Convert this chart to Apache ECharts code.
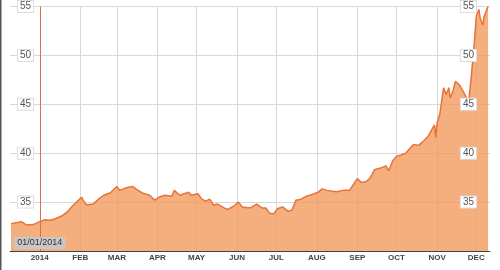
<!DOCTYPE html>
<html>
<head>
<meta charset="utf-8">
<script src="https://cdn.jsdelivr.net/npm/echarts@6/dist/echarts.min.js"></script>
<style>
html,body{margin:0;padding:0;background:#fff;}
#chart{width:500px;height:270px;}
</style>
</head>
<body>
<div id="chart"></div>
<script>
// ---- data ----
const dates = [
 '2013-12-10','2013-12-14','2013-12-18','2013-12-22','2013-12-27',
 '2014-01-01','2014-01-05','2014-01-09','2014-01-13','2014-01-18','2014-01-22','2014-01-26','2014-01-30',
 '2014-02-02','2014-02-04','2014-02-06','2014-02-11','2014-02-15','2014-02-19','2014-02-24',
 '2014-03-01','2014-03-03','2014-03-09','2014-03-13','2014-03-16','2014-03-21','2014-03-26','2014-03-30',
 '2014-04-03','2014-04-07','2014-04-12','2014-04-14','2014-04-18','2014-04-25','2014-04-27',
 '2014-05-02','2014-05-05','2014-05-08','2014-05-11','2014-05-14','2014-05-17','2014-05-22','2014-05-25','2014-05-30',
 '2014-06-02','2014-06-05','2014-06-11','2014-06-16','2014-06-20','2014-06-23','2014-06-26','2014-06-29',
 '2014-07-02','2014-07-06','2014-07-10','2014-07-13','2014-07-16','2014-07-20','2014-07-24','2014-07-29',
 '2014-08-02','2014-08-05','2014-08-09','2014-08-13','2014-08-16','2014-08-21','2014-08-26','2014-08-29',
 '2014-09-01','2014-09-04','2014-09-08','2014-09-11','2014-09-14','2014-09-19','2014-09-23','2014-09-25','2014-09-28',
 '2014-10-01','2014-10-04','2014-10-08','2014-10-12','2014-10-14','2014-10-18','2014-10-22','2014-10-25','2014-10-30','2014-10-31',
 '2014-11-01','2014-11-03','2014-11-06','2014-11-08','2014-11-10','2014-11-11','2014-11-13','2014-11-15','2014-11-18','2014-11-21','2014-11-23','2014-11-25','2014-11-27','2014-11-29',
 '2014-12-01','2014-12-03','2014-12-04','2014-12-06','2014-12-07','2014-12-10'
];
const prices = [
 32.8,32.9,33.0,32.65,32.7,
 33.0,33.2,33.15,33.3,33.6,34.0,34.6,35.1,
 35.5,35.0,34.7,34.8,35.3,35.7,35.95,
 36.6,36.2,36.5,36.6,36.3,35.9,35.7,35.2,
 35.55,35.7,35.6,36.2,35.7,36.0,35.7,
 35.85,35.3,35.1,35.3,34.7,34.8,34.4,34.25,34.65,
 35.0,34.5,34.4,34.8,34.4,34.4,33.85,33.8,
 34.35,34.5,34.05,34.2,35.2,35.3,35.6,35.8,
 36.0,36.35,36.2,36.1,36.05,36.2,36.2,36.8,
 37.4,37.0,37.1,37.5,38.3,38.5,38.7,38.2,39.2,
 39.7,39.8,40.0,40.6,40.9,40.8,41.3,41.7,42.9,41.6,
 43.1,43.95,46.7,46.0,46.7,45.65,46.3,47.35,47.0,46.3,45.8,45.1,47.6,50.5,
 54.0,54.7,53.8,53.1,54.0,55.0
];
const monthStarts = ['2014-01-01','2014-02-01','2014-03-01','2014-04-01','2014-05-01','2014-06-01',
                     '2014-07-01','2014-08-01','2014-09-01','2014-10-01','2014-11-01','2014-12-01'];
const monthLabels = ['','FEB','MAR','APR','MAY','JUN','JUL','AUG','SEP','OCT','NOV','DEC'];
const crosshairDate = '2014-01-01';
const crosshairLabel = '01/01/2014';

// ---- layout ----
const DAY = 864e5;
const pxPerDay = 1.307;
const t0 = new Date(2013, 11, 10).getTime();
const xMin = t0 - (1 / pxPerDay) * DAY;
const xMax = xMin + (480 / pxPerDay) * DAY;

const chart = echarts.init(document.getElementById('chart'), null, {renderer: 'canvas'});
const yLabel = {
  inside: true,
  showMinLabel: false,
  color: '#555',
  fontSize: 10,
  fontFamily: 'Liberation Sans, Arial, sans-serif',
  backgroundColor: '#fff',
  borderColor: '#ddd',
  borderWidth: 1,
  padding: [1, 2, 0, 2]
};
const gridLine = {color: '#d8d8d8', width: 1};
const seriesData = dates.map((d, i) => [d, prices[i]]);
chart.setOption({
  animation: false,
  backgroundColor: '#fff',
  grid: {left: 10, right: 10, top: 5, bottom: 19, containLabel: false},
  xAxis: {
    type: 'time',
    min: xMin,
    max: xMax,
    minInterval: 28 * DAY,
    maxInterval: 31 * DAY,
    axisLine: {lineStyle: {color: '#444', width: 1}},
    axisTick: {show: false},
    splitLine: {show: false},
    axisLabel: {
      color: '#444',
      fontSize: 8,
      fontWeight: 'bold',
      fontFamily: 'Liberation Sans, Arial, sans-serif',
      margin: 3,
      showMinLabel: false,
      showMaxLabel: false,
      formatter: function (v) {
        const d = new Date(v);
        return d.getMonth() === 0 ? String(d.getFullYear()) : monthLabels[d.getMonth()];
      }
    }
  },
  yAxis: [
    {type: 'value', position: 'left', min: 30, max: 55, interval: 5, z: 0,
     axisLine: {show: false}, axisTick: {show: false}, axisLabel: {show: false},
     splitLine: {show: true, lineStyle: gridLine}},
    {type: 'value', position: 'left', min: 30, max: 55, interval: 5, z: 10,
     axisLine: {show: false}, axisTick: {show: false}, splitLine: {show: false},
     axisLabel: Object.assign({margin: 8}, yLabel)},
    {type: 'value', position: 'right', min: 30, max: 55, interval: 5, z: 10,
     axisLine: {show: false}, axisTick: {show: false}, splitLine: {show: false},
     axisLabel: Object.assign({margin: 14}, yLabel)}
  ],
  series: [
    {
      // vertical month gridlines (behind the area)
      type: 'line',
      data: [],
      z: 1,
      silent: true,
      markLine: {
        silent: true,
        symbol: 'none',
        z: 1,
        label: {show: false},
        lineStyle: {color: '#d8d8d8', width: 1, type: 'solid'},
        data: monthStarts.map(m => ({xAxis: m}))
      }
    },
    {
      type: 'line',
      data: seriesData,
      showSymbol: false,
      symbol: 'none',
      lineStyle: {color: '#e8733a', width: 1.5},
      areaStyle: {color: '#f29a5e', opacity: 0.8},
      z: 3,
      markLine: {
        silent: true,
        symbol: 'none',
        label: {show: false},
        lineStyle: {color: '#d9714a', width: 1, type: 'solid'},
        data: [{xAxis: crosshairDate}],
        z: 5
      },
      markPoint: {
        silent: true,
        symbol: 'rect',
        symbolSize: 0,
        data: [{coord: [crosshairDate, 30], value: crosshairLabel}],
        label: {
          show: true,
          formatter: crosshairLabel,
          offset: [0, -8],
          color: '#333',
          fontSize: 9,
          fontFamily: 'Liberation Sans, Arial, sans-serif',
          backgroundColor: '#c8c8c8',
          padding: [2, 3, 1, 3]
        },
        z: 6
      }
    }
  ],
  graphic: [
    {type: 'rect', left: 0, top: 0, shape: {width: 1.5, height: 270}, style: {fill: '#555'}, silent: true}
  ]
});
</script>
</body>
</html>
